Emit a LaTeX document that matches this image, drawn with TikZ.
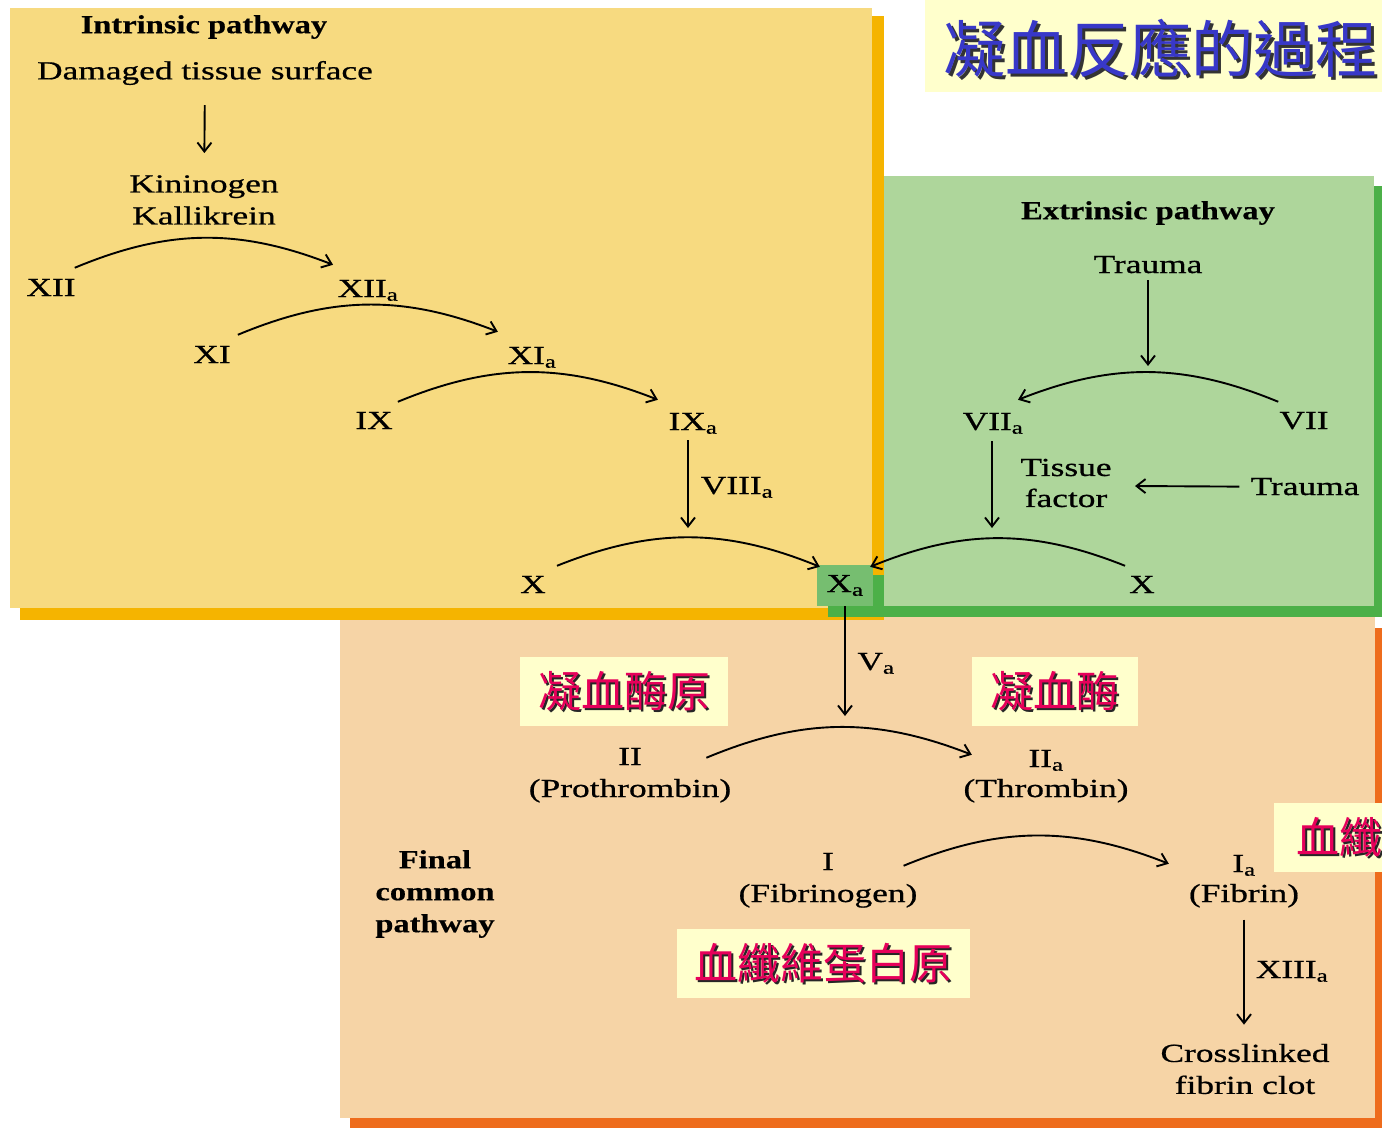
\documentclass[tikz,border=0pt]{standalone}
\usepackage{fontspec}
\setmainfont{Liberation Serif}[FakeStretch=1.36,FakeBold=0.7,BoldFeatures={FakeStretch=1.25,FakeBold=0.4}]
\newfontfamily\cjk{Noto Sans CJK TC}
\usetikzlibrary{positioning}
\usetikzlibrary{arrows.meta}
\definecolor{intryellow}{RGB}{247,218,128}
\definecolor{intrshadow}{RGB}{245,180,0}
\definecolor{extrgreen}{RGB}{174,214,155}
\definecolor{extrshadow}{RGB}{76,176,72}
\definecolor{xagreen}{RGB}{118,190,112}
\definecolor{finpeach}{RGB}{246,212,166}
\definecolor{finshadow}{RGB}{238,108,28}
\definecolor{tagyellow}{RGB}{255,255,204}
\definecolor{titleblue}{RGB}{56,56,200}
\definecolor{tagred}{RGB}{230,0,90}
\tikzset{lbl/.style={font=\fontsize{26}{32}\selectfont, inner sep=1pt, align=center},
fac/.style={lbl, anchor=base},
hdr/.style={lbl, font=\fontsize{26}{32}\selectfont\bfseries},
arr/.style={-{Straight Barb[length=9pt,width=14pt]}, line width=1.9pt},
tagbox/.style={fill=tagyellow, minimum height=69pt, inner sep=0pt},
tagtext/.style={font=\cjk\fontsize{43}{43}\selectfont, inner sep=0pt, text=tagred},
tagshadow/.style={tagtext, text=black!85}}
\newcommand{\cjktag}[4]{%
  \node[tagbox, minimum width=#3] (#1) at (#2) {};
  \node[tagshadow] (#1-s) at ([shift={(2pt,-2pt)}]#1.center) {#4};
  \node[tagtext] (#1-t) at (#1.center) {#4};}

\begin{document}
\begin{tikzpicture}[x=1pt, y=-1pt]
\useasboundingbox (0,0) rectangle (1382,1128);
\clip (0,0) rectangle (1382,1128);
% panels
\fill[finshadow] (350,628) rectangle (1382,1128);
\fill[finpeach] (340,615) rectangle (1375,1118);
\fill[intrshadow] (20,16) rectangle (884,620);
\fill[intryellow] (10,8) rectangle (872,608);
\fill[extrshadow] (894,186) rectangle (1382,617);
\fill[extrshadow] (828,604) rectangle (894,617);
\fill[extrshadow] (873,575) rectangle (884,617);
\fill[extrgreen] (884,176) rectangle (1374,606);
\fill[tagyellow] (925,0) rectangle (1382,92);

\node[font=\cjk\fontsize{62}{62}\selectfont, text=black!80, anchor=west, inner sep=0pt] (title-s) at (946,51) {凝血反應的過程};
\node[font=\cjk\fontsize{62}{62}\selectfont, text=titleblue, anchor=west, inner sep=0pt] (title) at (943,48) {凝血反應的過程};

% intrinsic
\node[hdr] (intr) at (204,27) {Intrinsic pathway};
\node[lbl] (dmg) at (205,73) {Damaged tissue surface};
\node[lbl] (kin) at (204,200) {Kininogen\\Kallikrein};
\draw[arr, shorten <=19pt, shorten >=21pt] (dmg) -- (kin);
\node[fac] (XII) at (51,296) {XII};
\node[fac] (XIIa) at (368,297) {XII\textsubscript{a}};
\node[fac] (XI) at (212,363) {XI};
\node[fac] (XIa) at (532,364) {XI\textsubscript{a}};
\node[fac] (IX) at (374,429) {IX};
\node[fac] (IXa) at (693,430) {IX\textsubscript{a}};
\node[fac] (VIIIa) at (737,494) {VIII\textsubscript{a}};
\node[fac] (Xl) at (533,593) {X};
\node[fill=xagreen, minimum width=56pt, minimum height=41pt, inner sep=0pt, font=\fontsize{26}{32}\selectfont] (Xa) at (845,585.5) {X\textsubscript{a}};
\draw[arr] ([shift={(-2pt,10pt)}]XII.north east) to[bend left=22] ([shift={(-3.5pt,14pt)}]XIIa.north west);
\draw[arr] ([shift={(6pt,10pt)}]XI.north east) to[bend left=22] ([shift={(-8.5pt,14pt)}]XIa.north west);
\draw[arr] ([shift={(4pt,9pt)}]IX.north east) to[bend left=22] ([shift={(-9.5pt,12pt)}]IXa.north west);
\coordinate (ixtip) at (688,528);
\draw[arr, shorten <=5pt] ([xshift=-5pt]IXa.south) -- (ixtip);
\draw[arr] ([shift={(10pt,9pt)}]Xl.north east) to[bend left=22] ([shift={(3pt,-2pt)}]Xa.north west);

% extrinsic
\node[hdr] (extr) at (1148,213) {Extrinsic pathway};
\node[fac] (trauma) at (1148,273) {Trauma};
\node[fac] (VII) at (1304,429) {VII};
\node[fac] (VIIa) at (993,430) {VII\textsubscript{a}};
\node[lbl, font=\fontsize{26}{31}\selectfont] (tf) at (1066,483) {Tissue\\factor};
\node[fac] (trauma2) at (1305,495) {Trauma};
\node[fac] (Xr) at (1142,593) {X};
\coordinate (traumatip) at (1148,366);
\draw[arr, shorten <=6pt] (trauma.south) -- (traumatip);
\draw[arr] ([shift={(0pt,9pt)}]VII.north west) to[bend right=22] ([shift={(-6.5pt,12pt)}]VIIa.north east);
\coordinate (viitip) at (992,528);
\draw[arr, shorten <=6pt] ([xshift=-1pt]VIIa.south) -- (viitip);
\coordinate (tftip) at (1135,486);
\draw[arr] ([xshift=-10pt]trauma2.west) -- (tftip);
\draw[arr] ([shift={(-3pt,9pt)}]Xr.north west) to[bend right=22] ([shift={(-3pt,-2pt)}]Xa.north east);

% final common
\node[fac] (Va) at (876,670) {V\textsubscript{a}};
\coordinate (vatip) at (845,716);
\draw[arr] (Xa.south) -- (vatip);
\cjktag{prothtag}{624,691.5}{208pt}{凝血酶原}
\cjktag{thrombtag}{1055,691.5}{166pt}{凝血酶}
\cjktag{fibrinogentag}{823.5,963}{293pt}{血纖維蛋白原}
\node[tagbox, minimum width=140pt] (fibrintag) at (1344,837) {};
\node[tagshadow, anchor=west] (fibrintag-s) at ([shift={(24pt,-2pt)}]fibrintag.west) {血纖};
\node[tagtext, anchor=west] (fibrintag-t) at ([xshift=22pt]fibrintag.west) {血纖};
\node[fac] (II) at (630,765) {II};
\node[fac, below=32pt of II.base, anchor=base] (proth) {(Prothrombin)};
\node[fac] (IIa) at (1046,767) {II\textsubscript{a}};
\node[fac, below=30pt of IIa.base, anchor=base] (thromb) {(Thrombin)};
\draw[arr] ([shift={(-26pt,20pt)}]proth.north east) to[bend left=22] ([shift={(9.5pt,23pt)}]thromb.north west);
\node[hdr] (final) at (435,894) {Final\\common\\pathway};
\node[fac] (I) at (828,870) {I};
\node[fac, below=32pt of I.base, anchor=base] (fibrinogen) {(Fibrinogen)};
\node[fac] (Ia) at (1244,872) {I\textsubscript{a}};
\node[fac, below=30pt of Ia.base, anchor=base] (fibrin) {(Fibrin)};
\draw[arr] ([shift={(-15pt,17pt)}]fibrinogen.north east) to[bend left=22] ([shift={(-19pt,19pt)}]fibrin.north west);
\node[fac] (XIIIa) at (1292,978) {XIII\textsubscript{a}};
\node[lbl] (clot) at (1245,1069) {Crosslinked\\fibrin clot};
\draw[arr, shorten <=11pt, shorten >=18pt] (fibrin.south) -- (fibrin.south |- clot.north);
\end{tikzpicture}
\end{document}
